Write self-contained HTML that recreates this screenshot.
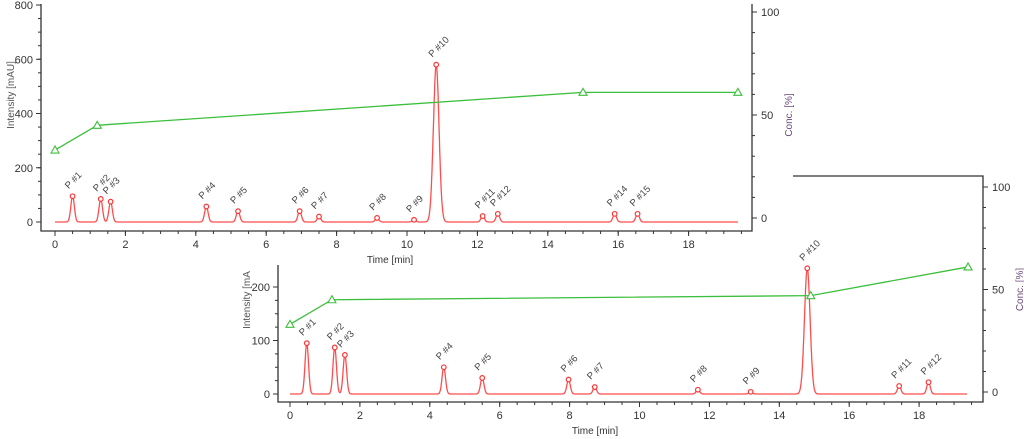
<!DOCTYPE html>
<html><head><meta charset="utf-8"><style>
body{margin:0;background:#fff;width:1024px;height:439px;overflow:hidden}
svg{display:block;font-family:"Liberation Sans",sans-serif}
</style></head><body>
<svg id="c" width="1024" height="439"></svg>
<script>
// Chart 1 data
const topTimes=[0.5,1.3,1.58,4.3,5.2,6.95,7.5,9.15,10.2,10.83,12.15,12.58,15.9,16.55];
const topHeights=[95,85,75,57,40,40,20,15,8,580,22,30,30,30];
const topLabels=["P #1","P #2","P #3","P #4","P #5","P #6","P #7","P #8","P #9","P #10","P #11","P #12","P #14","P #15"];
const topGradT=[0,1.2,15,19.4];
const topGradC=[33,45,61,61];
const topYTicks=[0,200,400,600,800];
const topXTicks=[0,2,4,6,8,10,12,14,16,18];
// Chart 2 data
const botTimes=[0.48,1.28,1.57,4.4,5.5,7.97,8.72,11.67,13.18,14.8,17.43,18.27];
const botHeights=[95,87,73,50,30,27,13,8,4,235,15,22];
const botLabels=["P #1","P #2","P #3","P #4","P #5","P #6","P #7","P #8","P #9","P #10","P #11","P #12"];
const botGradT=[0,1.2,14.9,19.4];
const botGradC=[33,45,47,61];
const botYTicks=[0,100,200];
const botXTicks=[0,2,4,6,8,10,12,14,16,18];
const concTicks=[0,50,100];

const svg=document.getElementById('c');
const NS='http://www.w3.org/2000/svg';
function el(t,a,p){const e=document.createElementNS(NS,t);for(const k in a)e.setAttribute(k,a[k]);(p||svg).appendChild(e);return e;}

function chart(cfg,pre){
  const g=el('g',{});
  
  
  const X=t=>cfg.x0+t*cfg.xs, Y=v=>cfg.y0-v*cfg.ys, C=c=>cfg.c0-c*(cfg.c0-cfg.c100)/100;
  const ax=el('path',{d:cfg.frame,stroke:'#333',fill:'none','stroke-width':1.3},g);
  
  
  cfg.yTicks.forEach(v=>{
    el('line',{x1:cfg.left-5,x2:cfg.left,y1:Y(v),y2:Y(v),stroke:'#333'},g);
    const t=el('text',{x:cfg.left-8,y:Y(v)+4,'font-size':11,'text-anchor':'end',fill:'#333'},g);t.textContent=v;
    
    
  });
  const ystep=cfg.yTicks[1]-cfg.yTicks[0];
  for(let v=0;v<=cfg.yTicks[cfg.yTicks.length-1];v+=ystep/4)el('line',{x1:cfg.left-3,x2:cfg.left,y1:Y(v),y2:Y(v),stroke:'#333'},g);
  cfg.xTicks.forEach(v=>{
    el('line',{x1:X(v),x2:X(v),y1:cfg.bottom,y2:cfg.bottom+5,stroke:'#333'},g);
    const t=el('text',{x:X(v),y:cfg.bottom+17,'font-size':11,'text-anchor':'middle',fill:'#333'},g);t.textContent=v;
    
    
  });
  for(let v=0;v<=19.5;v+=0.5)el('line',{x1:X(v),x2:X(v),y1:cfg.bottom,y2:cfg.bottom+3,stroke:'#333'},g);
  concTicks.forEach(c=>{
    el('line',{x1:cfg.right,x2:cfg.right+5,y1:C(c),y2:C(c),stroke:'#333'},g);
    const t=el('text',{x:cfg.right+9,y:C(c)+4,'font-size':11,fill:'#333'},g);t.textContent=c;
    
    
  });
  for(let c=0;c<=100;c+=10)el('line',{x1:cfg.right,x2:cfg.right+3,y1:C(c),y2:C(c),stroke:'#333'},g);
  let t=el('text',{x:cfg.xtX,y:cfg.bottom+32,'font-size':10,'text-anchor':'middle',fill:'#333'},g);t.textContent='Time [min]';
  
  t=el('text',{transform:`translate(${cfg.ytX},${cfg.ytY}) rotate(-90)`,'font-size':10,'text-anchor':'middle',fill:'#555'},g);t.textContent=cfg.ytitle;
  
  t=el('text',{transform:`translate(${cfg.right+40},${C(cfg.ctY)}) rotate(-90)`,'font-size':10,'text-anchor':'middle',fill:'#6a4a7a'},g);t.textContent='Conc. [%]';
  
  let d='';
  for(let tt=0;tt<=cfg.tEnd+1e-9;tt+=0.01){
    let v=0;cfg.times.forEach((pt,i)=>{const s=cfg.heights[i]>200?0.08:0.05;v+=cfg.heights[i]*Math.exp(-((tt-pt)**2)/(2*s*s));});
    d+=(d?'L':'M')+X(tt).toFixed(1)+','+Y(v).toFixed(1);
  }
  const sig=el('path',{d,stroke:'#ff4d4d',fill:'none','stroke-width':1.3},g);
  
  cfg.times.forEach((pt,i)=>{
    const m=el('circle',{cx:X(pt),cy:Y(cfg.heights[i]),r:2.3,fill:'#fff',stroke:'#ff3333','stroke-width':1.2},g);
    
    const l=el('text',{transform:`translate(${X(pt)-4},${Y(cfg.heights[i])-7}) rotate(-45)`,'font-size':9.5,fill:'#444'},g);
    l.textContent=cfg.labels[i];
    
  });
  const gp=cfg.gT.map((tt,i)=>X(tt)+','+C(cfg.gC[i])).join(' ');
  const gl=el('polyline',{points:gp,stroke:'#3cbf3c',fill:'none','stroke-width':1.3},g);
  
  cfg.gT.forEach((tt,i)=>{
    const x=X(tt),y=C(cfg.gC[i]);
    const m=el('polygon',{points:`${x},${y-4} ${x-4},${y+3} ${x+4},${y+3}`,fill:'#fff',stroke:'#3cbf3c','stroke-width':1.1},g);
    
  });
}
chart({x0:55,xs:35.2,y0:222,ys:217/800,c0:218,c100:12,left:41,right:752,bottom:231,
  frame:'M41,4 L41,231 L752,231 L752,4',yTicks:topYTicks,xTicks:topXTicks,times:topTimes,heights:topHeights,
  labels:topLabels,gT:topGradT,gC:topGradC,tEnd:19.4,xtX:390,ytX:14,ytY:95,ytitle:'Intensity [mAU]',ctY:50},'top');
chart({x0:290,xs:34.95,y0:394,ys:107/200,c0:392,c100:187,left:278,right:983,bottom:402,
  frame:'M278,265 L278,402 L983,402 L983,176 L793,176',yTicks:botYTicks,xTicks:botXTicks,times:botTimes,heights:botHeights,
  labels:botLabels,gT:botGradT,gC:botGradC,tEnd:19.37,xtX:595,ytX:250,ytY:300,ytitle:'Intensity [mA',ctY:50},'bottom');
</script>
</body></html>
